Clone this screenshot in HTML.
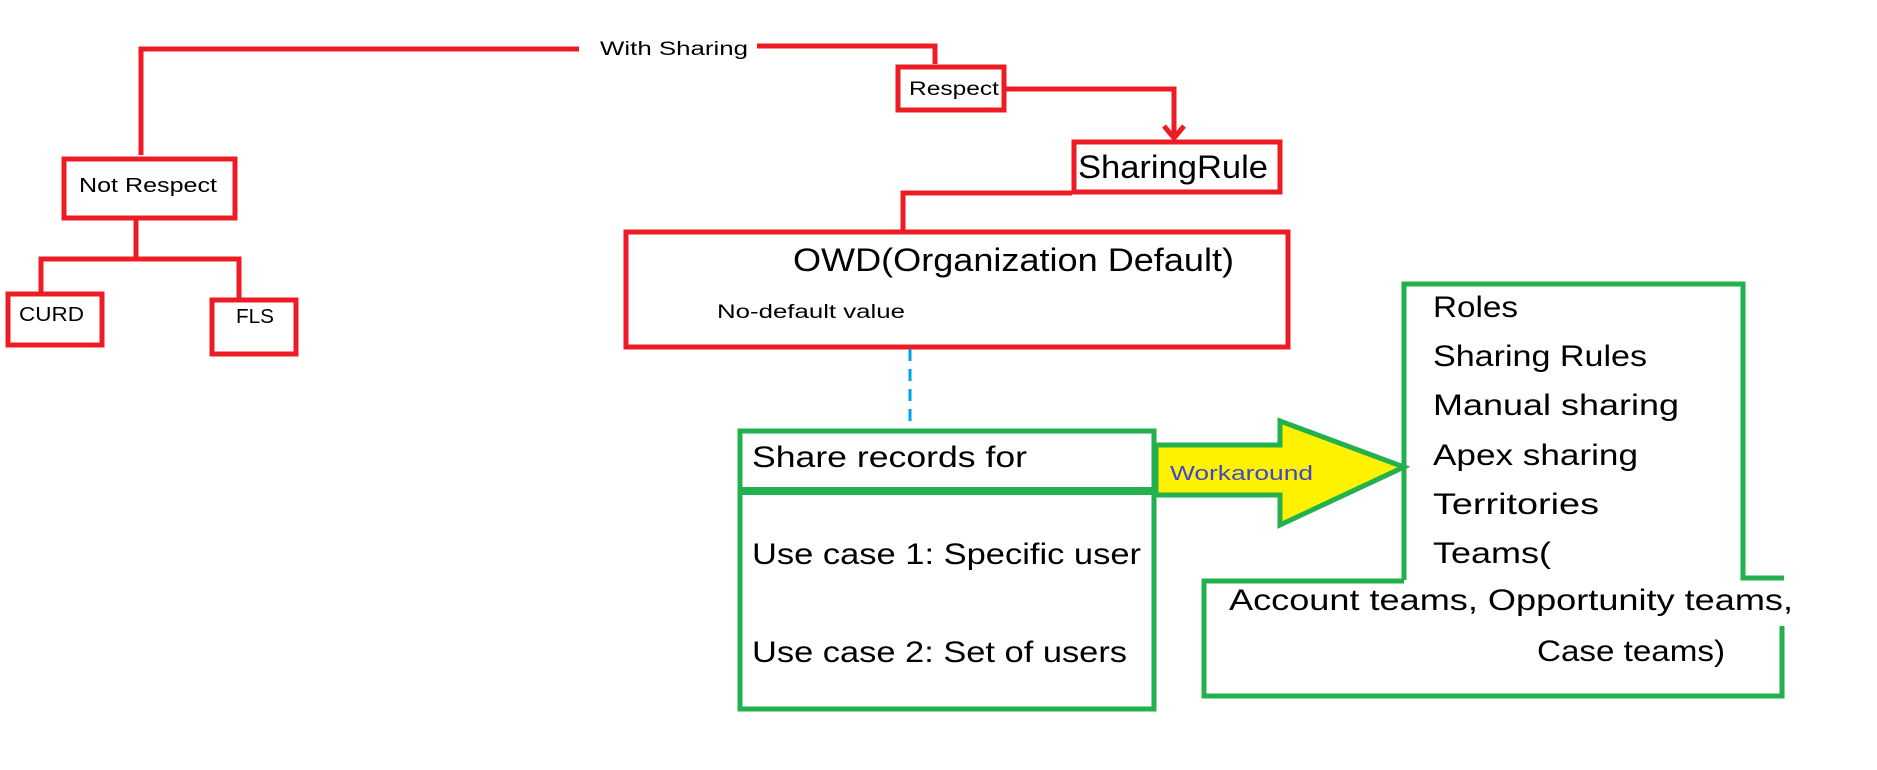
<!DOCTYPE html>
<html><head><meta charset="utf-8"><style>
html,body{margin:0;padding:0;background:#fff;width:1877px;height:770px;overflow:hidden}
svg{display:block}
text{font-family:"Liberation Sans",sans-serif;fill:#000}
</style></head><body>
<svg width="1877" height="770" viewBox="0 0 1877 770" xmlns="http://www.w3.org/2000/svg">
<g fill="none" stroke="#ed1c24" stroke-width="5">
<polyline points="141,155 141,49 579,49"/>
<polyline points="757,46 935,46 935,64"/>
<rect x="898" y="67" width="106" height="43"/>
<polyline points="1006,89 1174,89 1174,136"/>
<polyline points="1164,126 1174,138 1184,126"/>
<rect x="1074" y="142" width="206" height="50"/>
<polyline points="1072,193 903,193 903,230"/>
<rect x="626" y="232" width="662" height="115"/>
<rect x="64" y="159" width="171" height="59"/>
<polyline points="136,220 136,259"/>
<polyline points="41,294 41,259 239,259 239,300"/>
<rect x="8" y="294" width="94" height="51"/>
<rect x="212" y="300" width="84" height="54"/>
</g>
<line x1="910" y1="349" x2="910" y2="429" stroke="#00a2e8" stroke-width="3" stroke-dasharray="12,8"/>
<g fill="none" stroke="#22b14c" stroke-width="5">
<rect x="740" y="431" width="414" height="278"/>
<line x1="740" y1="491" x2="1154" y2="491" stroke-width="8"/>
<polyline points="1404,580 1404,284 1743,284 1743,578 1784,578"/>
<polyline points="1404,581 1204,581 1204,696 1782,696 1782,626"/>
</g>
<polygon points="1156,445 1280,445 1280,421 1404,467 1280,525 1280,495 1156,495" fill="#fff200" stroke="#22b14c" stroke-width="5"/>
<text x="600" y="55" font-size="19" textLength="148" lengthAdjust="spacingAndGlyphs">With Sharing</text>
<text x="909" y="95" font-size="19" textLength="90" lengthAdjust="spacingAndGlyphs">Respect</text>
<text x="1078" y="178" font-size="32" textLength="190" lengthAdjust="spacingAndGlyphs">SharingRule</text>
<text x="793" y="271" font-size="32" textLength="441" lengthAdjust="spacingAndGlyphs">OWD(Organization Default)</text>
<text x="717" y="318" font-size="19" textLength="188" lengthAdjust="spacingAndGlyphs">No-default value</text>
<text x="79" y="192" font-size="20" textLength="138" lengthAdjust="spacingAndGlyphs">Not Respect</text>
<text x="19" y="321" font-size="20" textLength="65" lengthAdjust="spacingAndGlyphs">CURD</text>
<text x="236" y="323" font-size="20" textLength="38" lengthAdjust="spacingAndGlyphs">FLS</text>
<text x="752" y="467" font-size="30" textLength="275" lengthAdjust="spacingAndGlyphs">Share records for</text>
<text x="752" y="564" font-size="30" textLength="389" lengthAdjust="spacingAndGlyphs">Use case 1: Specific user</text>
<text x="752" y="662" font-size="30" textLength="375" lengthAdjust="spacingAndGlyphs">Use case 2: Set of users</text>
<text x="1170" y="480" font-size="20" style="fill:#3f48cc" textLength="143" lengthAdjust="spacingAndGlyphs">Workaround</text>
<text x="1433" y="317" font-size="30" textLength="85" lengthAdjust="spacingAndGlyphs">Roles</text>
<text x="1433" y="366" font-size="30" textLength="214" lengthAdjust="spacingAndGlyphs">Sharing Rules</text>
<text x="1433" y="415" font-size="30" textLength="246" lengthAdjust="spacingAndGlyphs">Manual sharing</text>
<text x="1433" y="465" font-size="30" textLength="205" lengthAdjust="spacingAndGlyphs">Apex sharing</text>
<text x="1433" y="514" font-size="30" textLength="166" lengthAdjust="spacingAndGlyphs">Territories</text>
<text x="1433" y="563" font-size="30" textLength="118" lengthAdjust="spacingAndGlyphs">Teams(</text>
<text x="1229" y="610" font-size="30" textLength="564" lengthAdjust="spacingAndGlyphs">Account  teams, Opportunity teams,</text>
<text x="1537" y="661" font-size="30" textLength="188" lengthAdjust="spacingAndGlyphs">Case teams)</text>
</svg>
</body></html>
